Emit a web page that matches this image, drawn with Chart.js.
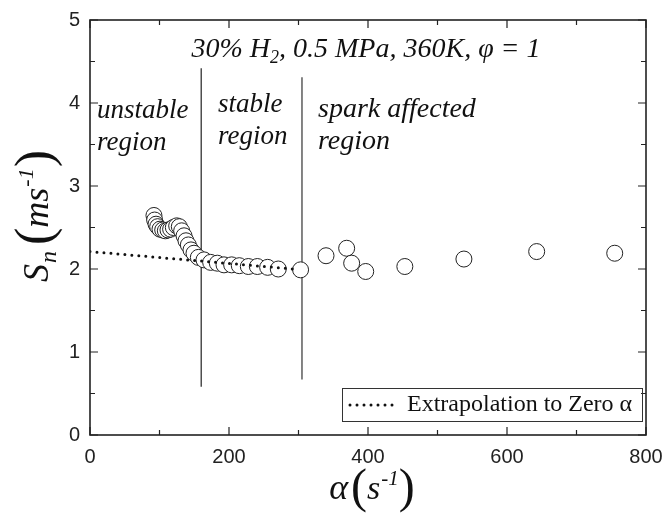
<!DOCTYPE html>
<html>
<head>
<meta charset="utf-8">
<script src="https://cdn.jsdelivr.net/npm/chart.js@4.4.1/dist/chart.umd.min.js"></script>
<style>
	html, body { margin: 0; padding: 0; background: #fff; }
	#wrap { width: 666px; height: 517px; }
</style>
</head>
<body>
<div id="wrap"><canvas id="chart"></canvas></div>
<script>
// flame speed vs stretch rate (alpha, 1/s -> S_n, m/s)
const alphaValues = [92, 93, 95, 97.4, 100.7, 104.6, 108.4, 112.2, 116, 119.9, 124.7, 128.5, 131.9, 135.3, 138.1, 141.5,
	145.3, 149.6, 155.9, 164, 173.6, 183.2, 192.8, 203.8, 214.8, 227.8, 240.8, 255.6, 270.9, 303,
	339.6, 369.3, 376.5, 396.7, 453, 538, 642.7, 755];
const speedValues = [2.645, 2.59, 2.54, 2.51, 2.48, 2.47, 2.46, 2.47, 2.48, 2.50, 2.52, 2.51, 2.46, 2.40, 2.34, 2.29,
	2.23, 2.19, 2.14, 2.11, 2.08, 2.07, 2.05, 2.05, 2.04, 2.03, 2.03, 2.02, 2.00, 1.99,
	2.16, 2.25, 2.07, 1.97, 2.03, 2.12, 2.21, 2.19];

// linear extrapolation back to alpha = 0
const extrapAlpha = [0, 300];
const extrapSpeed = [2.21, 1.995];

// region boundaries: alpha, and the vertical extent of each line
const boundaryAlpha = [160, 305];
const boundaryLow = [0.58, 0.67];
const boundaryHigh = [4.42, 4.31];

const xTicks = [0, 200, 400, 600, 800];
const yTicks = [0, 1, 2, 3, 4, 5];

const serif = '"Liberation Serif", "Times New Roman", serif';
const sans = '"Liberation Sans", Arial, sans-serif';

let points = alphaValues.map((a, i) => ({ x: a, y: speedValues[i] }));
let extrap = extrapAlpha.map((a, i) => ({ x: a, y: extrapSpeed[i] }));

let datasets = [{
	label: 'Extrapolation to Zero \u03b1',
	type: 'line',
	data: extrap,
	borderColor: '#111',
	borderWidth: 3,
	borderDash: [0, 7],
	borderCapStyle: 'round',
	pointRadius: 0,
	fill: false,
	order: 0
}, {
	label: 'data',
	type: 'scatter',
	data: points,
	pointRadius: 8,
	pointBorderWidth: 1,
	pointBackgroundColor: '#fff',
	pointBorderColor: '#222',
	order: 1
}];

boundaryAlpha.forEach((a, i) => {
	datasets.push({
		label: 'boundary' + i,
		type: 'line',
		data: [{ x: a, y: boundaryLow[i] }, { x: a, y: boundaryHigh[i] }],
		borderColor: i == 0 ? '#222' : '#666',
		borderWidth: i == 0 ? 1.2 : 1.6,
		pointRadius: 0,
		order: 2
	});
});

// draw a row of text pieces (sub/superscripts) from x0, or centred on x0
let drawRuns = (ctx, runs, x0, baseY, centre) => {
	let total = 0;
	runs.forEach(r => { ctx.font = r.font; r.w = ctx.measureText(r.text).width; total += r.w + (r.gap || 0); });
	let x = centre ? x0 - total / 2 : x0;
	ctx.textAlign = 'left';
	ctx.textBaseline = 'alphabetic';
	runs.forEach(r => {
		ctx.font = r.font;
		ctx.fillText(r.text, x, baseY + (r.dy || 0));
		x += r.w + (r.gap || 0);
	});
};

const decorPlugin = {
	id: 'decor',
	afterDraw(chart) {
		let ctx = chart.ctx;
		let area = chart.chartArea;
		let xs = chart.scales.x;
		let ys = chart.scales.y;
		ctx.save();

		// frame
		ctx.strokeStyle = '#222';
		ctx.lineWidth = 1.6;
		ctx.strokeRect(area.left, area.top, area.right - area.left, area.bottom - area.top);

		// inward ticks on all four sides
		ctx.lineWidth = 1.2;
		ctx.beginPath();
		for (let v = 0; v <= 800; v += 100) {
			let px = xs.getPixelForValue(v);
			let len = v % 200 == 0 ? 8 : 5;
			ctx.moveTo(px, area.bottom); ctx.lineTo(px, area.bottom - len);
			ctx.moveTo(px, area.top); ctx.lineTo(px, area.top + len);
		}
		for (let v = 0; v <= 5; v += 0.5) {
			let py = ys.getPixelForValue(v);
			let len = v % 1 == 0 ? 8 : 5;
			ctx.moveTo(area.left, py); ctx.lineTo(area.left + len, py);
			ctx.moveTo(area.right, py); ctx.lineTo(area.right - len, py);
		}
		ctx.stroke();

		ctx.fillStyle = '#111';

		// condition label
		drawRuns(ctx, [
			{ text: '30% H', font: 'italic 28px ' + serif },
			{ text: '2', font: 'italic 18px ' + serif, dy: 6 },
			{ text: ', 0.5 MPa, 360K, \u03c6 = 1', font: 'italic 28px ' + serif }
		], 366, 57, true);

		// region labels
		ctx.font = 'italic 27px ' + serif;
		ctx.textAlign = 'left';
		ctx.fillText('unstable', 97, 118);
		ctx.fillText('region', 97, 150);
		ctx.fillText('stable', 218, 112);
		ctx.fillText('region', 218, 144);
		ctx.font = 'italic 28px ' + serif;
		ctx.fillText('spark affected', 318, 117);
		ctx.fillText('region', 318, 149);

		// x axis title
		drawRuns(ctx, [
			{ text: '\u03b1', font: 'italic 36px ' + serif, gap: 3 },
			{ text: '(', font: '48px ' + serif, dy: 3 },
			{ text: 's', font: 'italic 34px ' + serif, gap: 1 },
			{ text: '-1', font: 'italic 21px ' + serif, dy: -14 },
			{ text: ')', font: '48px ' + serif, dy: 3 }
		], 372, 499, true);

		// y axis title, rotated
		ctx.save();
		ctx.translate(48, 282);
		ctx.rotate(-Math.PI / 2);
		drawRuns(ctx, [
			{ text: 'S', font: 'italic 36px ' + serif, gap: 1 },
			{ text: 'n', font: 'italic 24px ' + serif, dy: 8, gap: 6 },
			{ text: '(', font: '52px ' + serif, dy: 3 },
			{ text: 'ms', font: 'italic 36px ' + serif, gap: 1 },
			{ text: '-1', font: 'italic 22px ' + serif, dy: -15, gap: 1 },
			{ text: ')', font: '52px ' + serif, dy: 3 }
		], 0, 0, false);
		ctx.restore();

		// legend box
		let ds = chart.data.datasets[0];
		ctx.strokeStyle = '#333';
		ctx.lineWidth = 1;
		ctx.strokeRect(342.5, 388.5, 300, 33);
		ctx.strokeStyle = ds.borderColor;
		ctx.lineWidth = ds.borderWidth;
		ctx.setLineDash(ds.borderDash);
		ctx.lineCap = 'round';
		ctx.beginPath();
		ctx.moveTo(350, 405);
		ctx.lineTo(398, 405);
		ctx.stroke();
		ctx.setLineDash([]);
		ctx.font = '24px ' + serif;
		ctx.textBaseline = 'middle';
		ctx.fillText(ds.label, 407, 405);

		ctx.restore();
	}
};

let config = {
	data: { datasets: datasets },
	options: {
		responsive: true,
		maintainAspectRatio: false,
		animation: false,
		layout: { padding: { top: 20, right: 20, left: 0, bottom: 0 } },
		plugins: {
			legend: { display: false },
			tooltip: { enabled: false }
		},
		scales: {
			x: {
				type: 'linear',
				min: 0,
				max: 800,
				grid: { display: false, drawTicks: false },
				border: { display: false },
				afterBuildTicks: (s) => { s.ticks = xTicks.map(v => ({ value: v })); },
				afterFit: (s) => { s.height = 82; s.paddingLeft = 0; s.paddingRight = 0; },
				ticks: { padding: 10, color: '#222', font: { family: sans, size: 20 }, maxRotation: 0 }
			},
			y: {
				type: 'linear',
				min: 0,
				max: 5,
				grid: { display: false, drawTicks: false },
				border: { display: false },
				afterBuildTicks: (s) => { s.ticks = yTicks.map(v => ({ value: v })); },
				afterFit: (s) => { s.width = 90; s.paddingTop = 0; s.paddingBottom = 0; },
				ticks: { padding: 10, color: '#222', font: { family: sans, size: 20 } }
			}
		}
	},
	plugins: [decorPlugin]
};

let myChart = new Chart(document.getElementById('chart'), config);
</script>
</body>
</html>
